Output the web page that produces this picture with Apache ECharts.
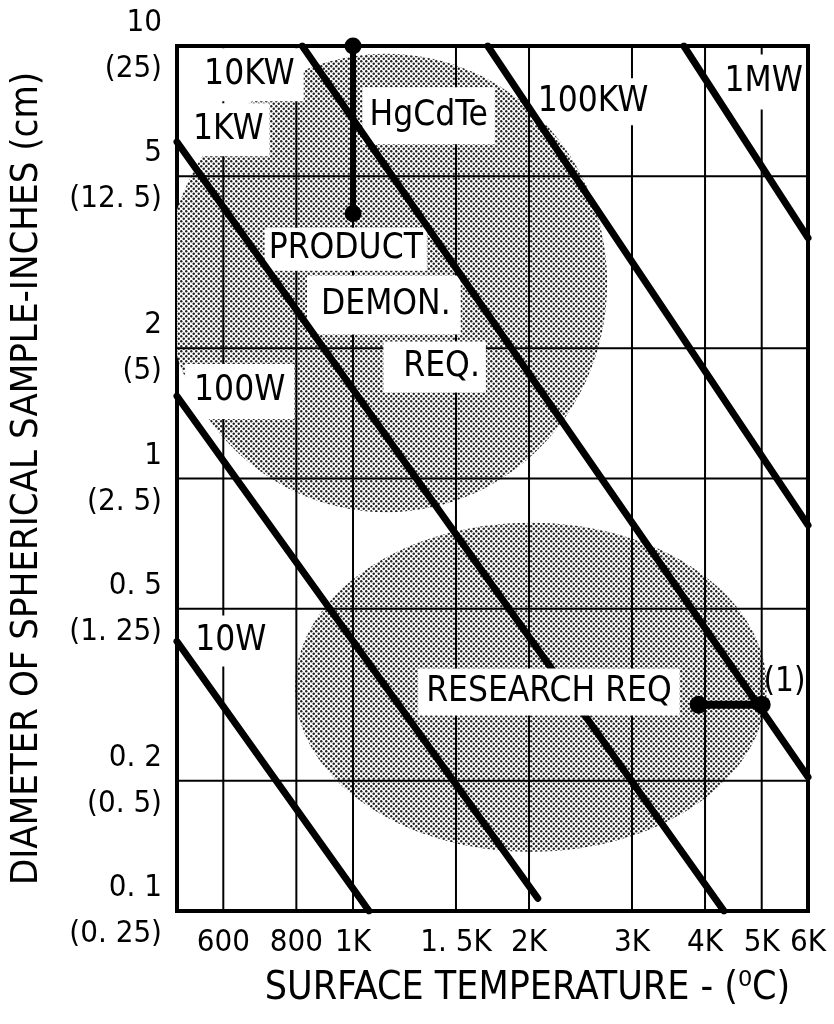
<!DOCTYPE html>
<html>
<head>
<meta charset="utf-8">
<script src="https://cdn.jsdelivr.net/npm/echarts@6/dist/echarts.min.js"></script>
<style>
html, body { margin: 0; padding: 0; background: #fff; }
#c { width: 834px; height: 1024px; }
</style>
</head>
<body>
<div id="c"></div>
<script>
// ---------------- data ----------------
const tempRange = [500, 6000];
const diamRange = [0.1, 10];

const tempTicks = [600, 800, 1000, 1500, 2000, 3000, 4000, 5000, 6000];
const tempTickLabels = ['600', '800', '1K', '1. 5K', '2K', '3K', '4K', '5K', '6K'];

const diamTicks = [0.1, 0.2, 0.5, 1, 2, 5, 10];
const diamTickInches = ['0. 1', '0. 2', '0. 5', '1', '2', '5', '10'];
const diamTickCm = ['(0. 25)', '(0. 5)', '(1. 25)', '(2. 5)', '(5)', '(12. 5)', '(25)'];

// constant-power lines: [temperature, diameter] at both ends
const powerNames = ['10W', '100W', '1KW', '10KW', '100KW', '1MW'];
const powerStart = [[500, 0.42], [500, 1.55], [500, 6.0], [819, 10], [1700, 10], [3680, 10]];
const powerEnd = [[1065, 0.1], [2070, 0.107], [4310, 0.1], [6000, 0.204], [6000, 0.78], [6000, 3.6]];

// requirement markers
const hgcdteReq = [[1000, 10], [1000, 4.1]];
const researchReq = [[3900, 0.3], [5000, 0.3]];

// shaded requirement regions (extent in data units)
const regionNames = ['PRODUCT DEMON. REQ.', 'RESEARCH REQ'];
const regionTemp = [[478, 2720], [796, 5100]];
const regionDiam = [[0.836, 9.6], [0.137, 0.79]];

// annotation texts and anchors [temperature, diameter]
const noteTexts = ['10KW', '1KW', 'HgCdTe', '100KW', '1MW', 'PRODUCT', 'DEMON.', 'REQ.', '100W', '10W', 'RESEARCH REQ', '(1)'];
const noteAnchors = [[665, 8.58], [612, 6.40], [1347, 6.90], [2573, 7.43], [5040, 8.26], [972, 3.39],
                     [1129, 2.52], [1379, 1.81], [640, 1.59], [618, 0.421], [2163, 0.321], [5470, 0.337]];

// ---------------- styles ----------------
const FONT = "'Liberation Sans Narrow', 'DejaVu Sans Condensed', 'Arial Narrow', sans-serif";
const noteStyle = {
  '10KW': { pad: [9, 9] },
  '1KW': { pad: [9, 6] },
  'HgCdTe': { pad: [11, 7] },
  '100KW': { pad: [6, 4] },
  '1MW': { pad: [10, 3] },
  'PRODUCT': { pad: [4, 4] },
  'DEMON.': { pad: [12, 10, 12, 14] },
  'REQ.': { pad: [8, 6, 8, 20] },
  '100W': { pad: [10, 9] },
  '10W': { pad: [8, 5] },
  'RESEARCH REQ': { pad: [6, 8], top: true },
  '(1)': { pad: [0, 0], noBg: true, size: 33 }
};

function closestIndex(arr, v) {
  let best = 0, bd = Infinity;
  arr.forEach((a, i) => {
    const d = Math.abs(Math.log10(a) - Math.log10(v));
    if (d < bd) { bd = d; best = i; }
  });
  return best;
}

const dotTile = (function () {
  const c = document.createElement('canvas');
  c.width = 5; c.height = 5;
  const g = c.getContext('2d');
  g.fillStyle = '#ffffff';
  g.fillRect(0, 0, 5, 5);
  g.fillStyle = '#222222';
  [[1.25, 1.25], [3.75, 3.75], [-1.25, 3.75], [3.75, -1.25], [6.25, 1.25], [1.25, 6.25]].forEach(p => {
    g.beginPath(); g.arc(p[0], p[1], 1.2, 0, Math.PI * 2); g.fill();
  });
  return c;
})();

const chart = echarts.init(document.getElementById('c'), null, { renderer: 'canvas' });

const series = [];

// shaded regions
series.push({
  type: 'custom', name: 'regions', z: 1, clip: true, silent: true,
  encode: { x: [0, 1], y: [2, 3] },
  data: regionNames.map((n, i) => ({ name: n, value: [regionTemp[i][0], regionTemp[i][1], regionDiam[i][0], regionDiam[i][1]] })),
  renderItem: function (params, api) {
    const a = api.coord([api.value(0), api.value(3)]);
    const b = api.coord([api.value(1), api.value(2)]);
    return {
      type: 'ellipse',
      shape: { cx: (a[0] + b[0]) / 2, cy: (a[1] + b[1]) / 2, rx: Math.abs(b[0] - a[0]) / 2, ry: Math.abs(b[1] - a[1]) / 2 },
      style: { fill: { image: dotTile, repeat: 'repeat' }, stroke: null }
    };
  }
});

// grid lines (vertical)
series.push({
  type: 'custom', name: 'vgrid', z: 2, silent: true, clip: false,
  encode: { x: 0, y: 1 },
  data: tempTicks.map(t => [t, diamRange[0]]),
  renderItem: function (params, api) {
    const p1 = api.coord([api.value(0), diamRange[0]]);
    const p2 = api.coord([api.value(0), diamRange[1]]);
    return { type: 'line', shape: { x1: p1[0], y1: p1[1], x2: p2[0], y2: p2[1] }, style: { stroke: '#000', lineWidth: 2 } };
  }
});
// grid lines (horizontal)
series.push({
  type: 'custom', name: 'hgrid', z: 2, silent: true, clip: false,
  encode: { x: 0, y: 1 },
  data: diamTicks.map(d => [tempRange[0], d]),
  renderItem: function (params, api) {
    const p1 = api.coord([tempRange[0], api.value(1)]);
    const p2 = api.coord([tempRange[1], api.value(1)]);
    return { type: 'line', shape: { x1: p1[0], y1: p1[1], x2: p2[0], y2: p2[1] }, style: { stroke: '#000', lineWidth: 2 } };
  }
});

function noteSeries(onTop) {
  const idx = noteTexts.map((t, i) => i).filter(i => !!(noteStyle[noteTexts[i]].top) === onTop);
  return {
    type: 'custom', name: onTop ? 'notesTop' : 'notes', z: onTop ? 6 : 3, silent: true, clip: false,
    encode: { x: 0, y: 1 },
    data: idx.map(i => ({ name: noteTexts[i], value: [noteAnchors[i][0], noteAnchors[i][1]] })),
    renderItem: function (params, api) {
      const i = idx[params.dataIndex];
      const txt = noteTexts[i];
      const st = noteStyle[txt];
      const p = api.coord([api.value(0), api.value(1)]);
      const size = st.size || 35;
      return {
        type: 'text', x: p[0], y: p[1],
        style: {
          text: txt, fontSize: size, fontFamily: FONT, fill: '#000',
          align: 'center', verticalAlign: 'middle', lineHeight: size,
          backgroundColor: st.noBg ? null : '#fff', padding: st.pad
        }
      };
    }
  };
}
series.push(noteSeries(false));

// constant-power lines
powerNames.forEach((n, i) => {
  series.push({
    type: 'line', name: n, z: 4, silent: true, clip: true,
    data: [powerStart[i], powerEnd[i]],
    showSymbol: false, symbol: 'none',
    lineStyle: { color: '#000', width: 7, cap: 'round' }
  });
});

// requirement markers
series.push({
  type: 'line', name: 'HgCdTe', z: 5, silent: true, clip: false,
  data: hgcdteReq, symbol: 'circle', symbolSize: 17, showSymbol: true,
  itemStyle: { color: '#000' }, lineStyle: { color: '#000', width: 6 }
});
series.push({
  type: 'line', name: 'Research (1)', z: 5, silent: true, clip: false,
  data: researchReq, symbol: 'circle', symbolSize: 18, showSymbol: true,
  itemStyle: { color: '#000' }, lineStyle: { color: '#000', width: 8 }
});

series.push(noteSeries(true));

const option = {
  animation: false,
  backgroundColor: '#fff',
  grid: { left: 177, right: 26, top: 44, bottom: 113, show: true, borderColor: '#000', borderWidth: 4, backgroundColor: 'transparent' },
  xAxis: {
    type: 'log', logBase: 10, min: tempRange[0], max: tempRange[1],
    name: 'SURFACE TEMPERATURE - (\u2070C)', nameLocation: 'middle', nameGap: 58,
    nameTextStyle: { fontSize: 39, fontFamily: FONT, color: '#000', padding: [0, 0, 0, 70], lineHeight: 39 },
    axisLine: { show: false }, axisTick: { show: false }, splitLine: { show: false }, minorTick: { show: false },
    axisLabel: {
      customValues: tempTicks, interval: 0, showMinLabel: true, showMaxLabel: true,
      margin: 16, fontSize: 31, fontFamily: FONT, color: '#000', lineHeight: 31,
      formatter: v => tempTickLabels[closestIndex(tempTicks, v)]
    }
  },
  yAxis: {
    type: 'log', logBase: 10, min: diamRange[0], max: diamRange[1],
    name: 'DIAMETER OF SPHERICAL SAMPLE-INCHES (cm)', nameLocation: 'middle', nameGap: 131, nameRotate: 90,
    nameTextStyle: { fontSize: 38, fontFamily: FONT, color: '#000', lineHeight: 38 },
    axisLine: { show: false }, axisTick: { show: false }, splitLine: { show: false }, minorTick: { show: false },
    axisLabel: {
      customValues: diamTicks, interval: 0, showMinLabel: true, showMaxLabel: true,
      margin: 15, fontSize: 31, fontFamily: FONT, color: '#000', lineHeight: 46, align: 'right',
      formatter: v => { const i = closestIndex(diamTicks, v); return diamTickInches[i] + '\n' + diamTickCm[i]; }
    }
  },
  series: series
};

chart.setOption(option);
</script>
</body>
</html>
